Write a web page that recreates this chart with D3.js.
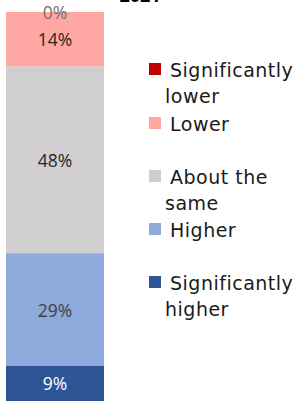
<!DOCTYPE html>
<html><head><meta charset="utf-8">
<script src="https://cdn.jsdelivr.net/npm/d3@7"></script>
<style>html,body{margin:0;padding:0;background:#fff;overflow:hidden}</style>
</head><body>
<svg id="chart" width="297" height="401"></svg>
<script>
const categories = ["Significantly lower","Lower","About the same","Higher","Significantly higher"];
const values = [0, 14, 48, 29, 9];
const colors = ["#C00000","#FFA7A2","#D0CECE","#8EA9DB","#2F5597"];
const labelColors = ["#707070","#262626","#262626","#404040","#ffffff"];
const legendLines = [["Significantly","lower"],["Lower"],["About the","same"],["Higher"],["Significantly","higher"]];
const title = "2021";

const svg = d3.select("#chart");
const font = "'Open Sans', sans-serif";
const legFont = "'DejaVu Sans', sans-serif";

const y = d3.scaleLinear().domain([0,100]).range([401,12]);
const x = d3.scaleBand().domain([title]).range([6,104]).padding(0);

let cum = 0;
const segs = [];
for (let i = values.length-1; i >= 0; i--) {
  segs.push({i, y0: cum, y1: cum + values[i]});
  cum += values[i];
}

svg.selectAll("rect.seg").data(segs).enter().append("rect")
  .attr("x", x(title)).attr("width", x.bandwidth())
  .attr("y", d => y(d.y1)).attr("height", d => y(d.y0) - y(d.y1))
  .attr("fill", d => colors[d.i]);

svg.selectAll("text.lbl").data(segs).enter().append("text")
  .attr("x", x(title) + x.bandwidth()/2)
  .attr("y", d => (y(d.y0)+y(d.y1))/2 + 7)
  .attr("text-anchor","middle")
  .attr("font-family", font).attr("font-size", 17.5)
  .attr("fill", d => labelColors[d.i])
  .text(d => values[d.i] + "%");

svg.append("text").attr("x",140).attr("y",2).attr("text-anchor","middle")
  .attr("font-family", font).attr("font-weight","bold").attr("font-size",18)
  .attr("fill","#000").text(title);

const legendY = [63,117,170,223,276];
const lg = svg.selectAll("g.leg").data(categories).enter().append("g");
lg.append("rect").attr("x",149).attr("y",(d,i)=>legendY[i]).attr("width",12).attr("height",12)
  .attr("fill",(d,i)=>colors[i]);
lg.each(function(d,i){
  const g = d3.select(this);
  legendLines[i].forEach((ln,j)=>{
    g.append("text").attr("x", j===0?170:165).attr("y", legendY[i]+14 + j*26)
      .attr("font-family", legFont).attr("font-size",19).attr("letter-spacing",0.5)
      .attr("fill","#1a1a1a")
      .text(ln);
  });
});
</script>
</body></html>
